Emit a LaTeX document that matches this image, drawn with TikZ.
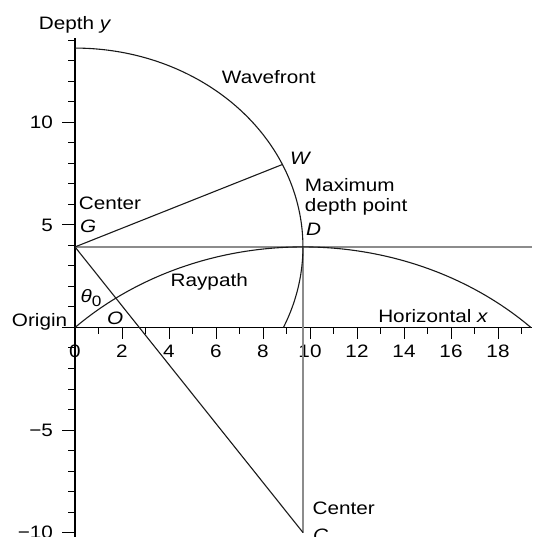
\documentclass[tikz,border=0pt]{standalone}
\usepackage{fontspec}
\setmainfont{Liberation Sans}[FakeStretch=1.15]
\begin{document}
\begin{tikzpicture}[x=23.5pt,y=20.5pt,
  lbl/.style={font=\fontsize{18}{20}\selectfont, inner sep=0pt, outer sep=0pt},
  curve/.style={line width=1.1pt, black!90},
  guide/.style={line width=1.5pt, black!45},
  axisline/.style={line width=1.2pt, black},
  tickline/.style={line width=1pt, black}]
\useasboundingbox (-3.1915,-10.2195) rectangle (19.4894,15.9756);
% key points
\coordinate (Or) at (0,0);
\coordinate (G) at (0,3.93);
\coordinate (D) at (9.7,3.93);
\coordinate (C) at (9.7,-10);
\coordinate (W) at (8.827,7.952);
\coordinate (E) at (19.43,3.93);
% axes
\draw[axisline] (0,-10.6) -- (0,14.1);
\draw[axisline] (Or) -- (19.43,0);
\foreach \y in {-10,...,14} \draw[tickline] (0,\y) -- ++(-7pt,0);
\foreach \y in {-10,-5,0,5,10} \draw[tickline] (0,\y) -- ++(-13pt,0);
\foreach \x in {1,...,19} \draw[tickline] (\x,0) -- ++(0,-7pt);
\foreach \x in {2,4,...,18} \draw[tickline] (\x,0) -- ++(0,-12pt);
\foreach \x in {0,2,...,18} \node[lbl] (tx\x) at (\x,-1.146) {\x};
\node[lbl,anchor=east] (ty10) at (-0.936,10) {10};
\node[lbl,anchor=east] (ty5) at (-0.936,5) {5};
\node[lbl,anchor=east] (tym5) at (-0.936,-5) {−5};
\node[lbl,anchor=east] (tym10) at (-0.936,-10) {−10};
% guide lines
\draw[guide] (G) -- (E);
\draw[guide] (D) -- (C);
% wavefront and raypath
\draw[curve] plot[domain=90:-23.9,samples=120] ({9.7*cos(\x)},{3.93+9.7*sin(\x)});
\draw[curve] plot[domain=134.13:45.87,samples=150] ({9.7+13.932*cos(\x)},{-10+13.932*sin(\x)});
% straight rays
\draw[curve] (G) -- (W);
\draw[curve] (G) -- (C);
% labels
\node[lbl,anchor=base west] (ldepth) at (-1.532,14.546) {Depth \textit{y}};
\node[lbl,anchor=base west] (lwave) at (6.255,11.878) {Wavefront};
\node[lbl,anchor=base west] (lW) at (9.149,7.927) {\textit{W}};
\node[lbl,anchor=base west] (lmax) at (9.787,6.624) {Maximum};
\node[lbl,anchor=base west] (lmax2) at (9.787,5.649) {depth point};
\node[lbl,anchor=base west] (lD) at (9.83,4.478) {\textit{D}};
\node[lbl,anchor=base west] (lcenterG) at (0.17,5.732) {Center};
\node[lbl,anchor=base west] (lG) at (0.213,4.61) {\textit{G}};
\node[lbl] (ltheta) at (0.681,1.439) {\textit{θ}\raisebox{-3.5pt}{\fontsize{15}{15}\selectfont 0}};
\node[lbl,anchor=base west] (lO) at (1.362,0.122) {\textit{O}};
\node[lbl,anchor=base west] (lorigin) at (-2.681,0.039) {Origin};
\node[lbl,anchor=base west] (lray) at (4.072,1.976) {Raypath};
\node[lbl,anchor=base west] (lhor) at (12.906,0.22) {Horizontal \textit{x}};
\node[lbl,anchor=base west] (lcenterC) at (10.115,-9.146) {Center};
\node[lbl,anchor=base west] (lC) at (10.128,-10.415) {\textit{C}};
\end{tikzpicture}
\end{document}
